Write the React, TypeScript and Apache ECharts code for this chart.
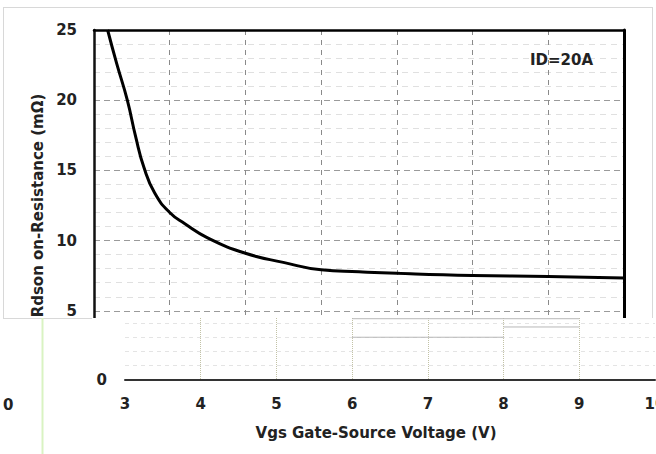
import React, { useEffect, useRef } from "react";
import * as echarts from "echarts";

// Curve: Rdson vs Vgs (ID = 20A)
const vgs = [3.18, 3.3, 3.44, 3.55, 3.66, 3.8, 4.0, 4.2, 4.5, 5.0, 5.5, 6.0, 6.5, 7.0, 8.0, 9.0, 10.0];
const rds = [25, 22.6, 20, 17.4, 15.2, 13.4, 12.0, 11.2, 10.2, 9.1, 8.45, 7.92, 7.78, 7.67, 7.52, 7.45, 7.33];

// Faint remnant segments in the lower panel (axis units)
const remnantA = [[6, 3.0], [8, 3.0]];
const remnantB = [[8, 3.72], [9, 3.72]];
const remnantTop = [[6, 4.3], [9, 4.3]];

const xName = "Vgs Gate-Source Voltage (V)";
const yName = "Rdson on-Resistance (mΩ)";
const noteText = "ID=20A";

const FONT = "DejaVu Sans";
const TXT = "#222";

export default function App() {
  const ref = useRef<HTMLDivElement>(null);
  useEffect(() => {
    if (!ref.current) return;
    const chart = echarts.init(ref.current, undefined, { renderer: "svg" });
    const curve = vgs.map((v, i) => [v, rds[i]]);
    const labelStyle = { fontFamily: FONT, fontWeight: "bold", fontSize: 15, color: TXT };
    chart.setOption({
      animation: false,
      backgroundColor: "#fff",
      grid: [
        { left: 94, top: 30, width: 530, height: 351, outerBoundsMode: "none" },
        { left: 125, top: 318, width: 530, height: 62, outerBoundsMode: "none" },
      ],
      xAxis: [
        {
          type: "value", gridIndex: 0, position: "top", min: 3, max: 10, interval: 1,
          axisLine: { show: true, onZero: false, lineStyle: { color: "#000", width: 2.5 } },
          axisTick: { show: false }, axisLabel: { show: false },
          splitLine: { show: true, showMinLine: false, showMaxLine: false, lineStyle: { color: "#8a8a8a", type: [5, 5], width: 1 } },
        },
        {
          type: "value", gridIndex: 1, min: 3, max: 10, interval: 1, z: 10,
          axisLine: { show: true, onZero: false, lineStyle: { color: "#333", width: 2 } },
          axisTick: { show: false },
          axisLabel: { ...labelStyle, margin: 16, showMinLabel: true, showMaxLabel: true },
          splitLine: { show: true, showMinLine: false, showMaxLine: false, lineStyle: { color: "#c2c2a6", type: "dotted", width: 1 } },
          name: xName, nameLocation: "middle", nameGap: 45,
          nameTextStyle: { ...labelStyle, padding: [0, 28, 0, 0] },
        },
      ],
      yAxis: [
        {
          type: "value", gridIndex: 0, position: "left", min: 0, max: 25, interval: 5,
          axisLine: { show: true, onZero: false, lineStyle: { color: "#111", width: 2.5 } },
          axisTick: { show: false },
          axisLabel: { ...labelStyle, margin: 17 },
          splitLine: { show: true, showMinLine: false, showMaxLine: false, lineStyle: { color: "#9a9a9a", type: [6, 4], width: 1 } },
          minorTick: { show: false, splitNumber: 5 },
          minorSplitLine: { show: true, lineStyle: { color: "#e0e0e0", type: [6, 5], width: 1 } },
          name: yName, nameLocation: "middle", nameGap: 44,
          nameTextStyle: labelStyle,
        },
        {
          type: "value", gridIndex: 0, position: "right", min: 0, max: 25, interval: 5,
          axisLine: { show: true, onZero: false, lineStyle: { color: "#000", width: 3 } },
          axisTick: { show: false }, axisLabel: { show: false }, splitLine: { show: false },
        },
        {
          type: "value", gridIndex: 1, min: 0, max: 4.35, interval: 1, z: 10,
          axisLine: { show: false, onZero: false }, axisTick: { show: false },
          axisLabel: { ...labelStyle, margin: 18, formatter: (v: number) => (v === 0 ? "0" : "") },
          splitLine: { show: true, showMinLine: false, showMaxLine: false, lineStyle: { color: "#e4e4e4", type: [4, 4], width: 1 } },
        },
      ],
      series: [
        {
          type: "line", xAxisIndex: 0, yAxisIndex: 0, data: curve, smooth: 0.5,
          showSymbol: false, symbol: "none", lineStyle: { color: "#000", width: 3 }, silent: true,
        },
        ...[remnantA, remnantB, remnantTop].map((d) => ({
          type: "line", xAxisIndex: 1, yAxisIndex: 2, data: d, z: 10, showSymbol: false, symbol: "none",
          lineStyle: { color: "#b8b8b8", width: 1 }, silent: true,
        })),
      ],
      graphic: [
        { type: "rect", z: 5, shape: { x: 0, y: 318, width: 656, height: 136 }, style: { fill: "#fff" }, silent: true },
        { type: "line", z: 10, shape: { x1: 3, y1: 7.5, x2: 653, y2: 7.5 }, style: { stroke: "#d8d8d8", lineWidth: 1 } },
        { type: "line", z: 10, shape: { x1: 3.5, y1: 7, x2: 3.5, y2: 318 }, style: { stroke: "#d8d8d8", lineWidth: 1 } },
        { type: "line", z: 10, shape: { x1: 652.5, y1: 7, x2: 652.5, y2: 318 }, style: { stroke: "#d8d8d8", lineWidth: 1 } },
        { type: "line", z: 10, shape: { x1: 3, y1: 318.5, x2: 92, y2: 318.5 }, style: { stroke: "#d8d8d8", lineWidth: 1 } },
        { type: "line", z: 10, shape: { x1: 42.5, y1: 318, x2: 42.5, y2: 454 }, style: { stroke: "#d9f3c2", lineWidth: 2 } },
        {
          type: "text", z: 10, x: 530, y: 60,
          style: { text: noteText, fontFamily: FONT, fontWeight: "bold", fontSize: 15, fill: TXT, verticalAlign: "middle" },
        },
        {
          type: "text", z: 10, x: 3, y: 405,
          style: { text: "0", fontFamily: FONT, fontWeight: "bold", fontSize: 15, fill: TXT, verticalAlign: "middle" },
        },
      ],
    });
    return () => chart.dispose();
  }, []);
  return <div ref={ref} style={{ position: "fixed", left: 0, top: 0, width: 656, height: 454 }} />;
}
